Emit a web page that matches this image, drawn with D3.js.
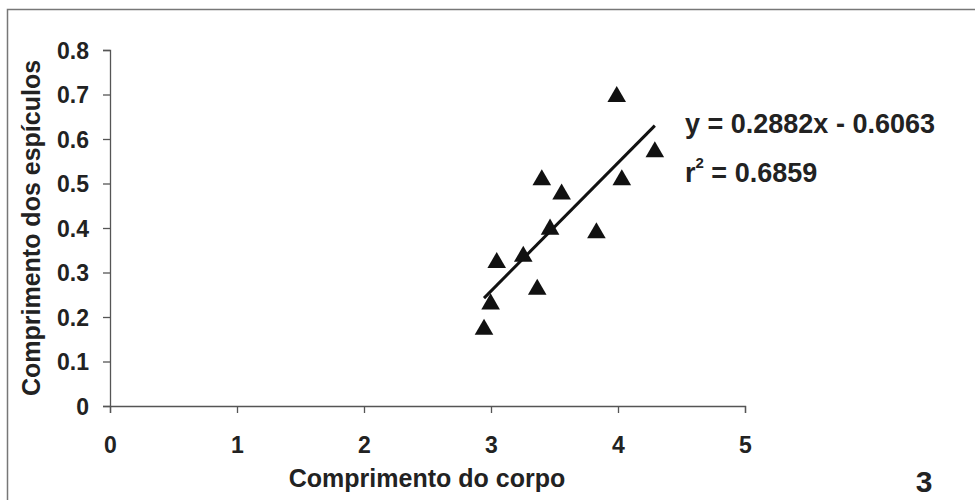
<!DOCTYPE html>
<html>
<head>
<meta charset="utf-8">
<script src="https://cdn.jsdelivr.net/npm/d3@7"></script>
<style>
  body { margin: 0; background: #fff; }
  text { font-family: Arial, "Liberation Sans", sans-serif; font-weight: bold; fill: #222; }
</style>
</head>
<body>
<script>
var corpo = [2.945, 2.997, 3.045, 3.254, 3.364, 3.40, 3.465, 3.556, 3.83, 3.99, 4.03, 4.29];
var espiculos = [0.172, 0.229, 0.322, 0.336, 0.262, 0.508, 0.397, 0.476, 0.389, 0.695, 0.508, 0.571];
var xTicks = [0, 1, 2, 3, 4, 5];
var yTicks = [0, 0.1, 0.2, 0.3, 0.4, 0.5, 0.6, 0.7, 0.8];
var slope = 0.2882, intercept = -0.6063, r2 = 0.6859;

function main() {
  var svg = d3.select("body").append("svg")
    .attr("width", 975).attr("height", 500);

  // frame
  svg.append("rect")
    .attr("x", 7.5).attr("y", 9.5)
    .attr("width", 1000).attr("height", 600)
    .attr("fill", "none").attr("stroke", "#777").attr("stroke-width", 1.5);

  var x = d3.scaleLinear().domain([0, 5]).range([110, 745]);
  var y = d3.scaleLinear().domain([0, 0.8]).range([406, 50]);

  var xAxis = svg.append("g")
    .attr("transform", "translate(0," + y(0) + ")")
    .call(d3.axisBottom(x).tickValues(xTicks).tickSize(7).tickPadding(24).tickFormat(d3.format("d")));
  var yAxis = svg.append("g")
    .attr("transform", "translate(" + x(0) + ",0)")
    .call(d3.axisLeft(y).tickValues(yTicks).tickSize(7).tickPadding(14).tickFormat(function(d){ return d === 0 ? "0" : d3.format(".1f")(d); }));

  [xAxis, yAxis].forEach(function(a) {
    a.select(".domain").attr("stroke", "#555").attr("stroke-width", 1.3);
    a.selectAll(".tick line").attr("stroke", "#555").attr("stroke-width", 1.3);
    a.selectAll(".tick text").attr("font-size", 23).attr("fill", "#222")
      .attr("font-family", "Arial, 'Liberation Sans', sans-serif").attr("font-weight", "bold");
  });
  yAxis.selectAll(".tick text").attr("dy", "0.35em");

  // axis titles
  svg.append("text")
    .attr("x", 427).attr("y", 487)
    .attr("text-anchor", "middle").attr("font-size", 25)
    .text("Comprimento do corpo");
  svg.append("text")
    .attr("transform", "translate(40,228) rotate(-90)")
    .attr("text-anchor", "middle").attr("font-size", 25)
    .text("Comprimento dos espículos");

  // trend line
  var x0 = d3.min(corpo), x1 = d3.max(corpo);
  svg.append("line")
    .attr("x1", x(x0)).attr("y1", y(slope * x0 + intercept))
    .attr("x2", x(x1)).attr("y2", y(slope * x1 + intercept))
    .attr("stroke", "#111").attr("stroke-width", 3);

  // points
  var tri = d3.symbol().type(d3.symbolTriangle).size(150);
  svg.selectAll(".pt")
    .data(corpo)
    .enter()
    .append("path")
    .attr("class", "pt")
    .attr("transform", function(d, i) { return "translate(" + x(d) + "," + y(espiculos[i]) + ")"; })
    .attr("d", tri)
    .attr("fill", "#111");

  // equation
  svg.append("text")
    .attr("x", 685).attr("y", 133).attr("font-size", 27)
    .text("y = " + slope + "x - " + Math.abs(intercept));
  var r = svg.append("text")
    .attr("x", 685).attr("y", 182).attr("font-size", 27);
  r.append("tspan").text("r");
  r.append("tspan").attr("font-size", 15).attr("dy", -14).text("2");
  r.append("tspan").attr("dy", 14).text(" = " + r2);

  svg.append("text")
    .attr("x", 924).attr("y", 492)
    .attr("text-anchor", "middle").attr("font-size", 30)
    .text("3");
}
main();
</script>
</body>
</html>
